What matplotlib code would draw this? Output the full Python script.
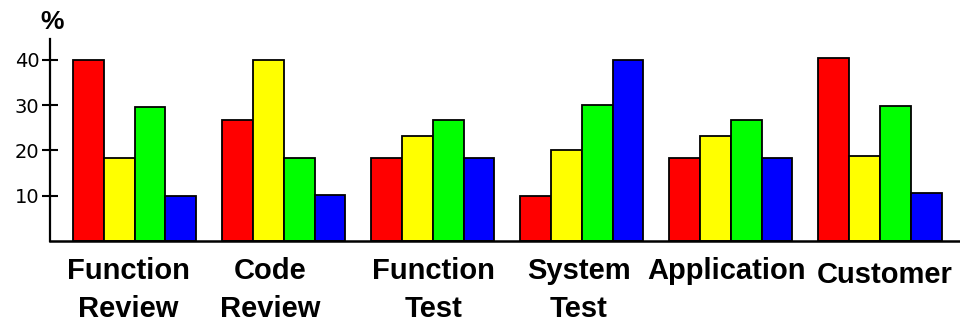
import numpy as np
import matplotlib.pyplot as plt
from matplotlib.transforms import offset_copy

# Data (percent)
categories = ['Function\nReview', 'Code\nReview', 'Function\nTest',
              'System\nTest', 'Application', 'Customer']
red_vals = [40.0, 26.7, 18.4, 10.0, 18.4, 40.5]
yellow_vals = [18.3, 40.0, 23.2, 20.1, 23.2, 18.8]
green_vals = [29.5, 18.4, 26.7, 30.1, 26.7, 29.9]
blue_vals = [10.0, 10.1, 18.4, 40.0, 18.4, 10.5]
yticks = [10, 20, 30, 40]

series = [red_vals, yellow_vals, green_vals, blue_vals]
colors = ['#FF0000', '#FFFF00', '#00FF00', '#0000FF']

fig = plt.figure(figsize=(9.6, 3.24), dpi=100)
ax = fig.add_axes([50 / 960, (324 - 241) / 324, 1 - 50 / 960, (241 - 39) / 324])

# group spacing in bar widths
gap = 4.84
centers = np.arange(len(categories)) * gap
offsets = [-1.5, -0.5, 0.5, 1.5]

for vals, col, off in zip(series, colors, offsets):
    ax.bar(centers + off, vals, width=1.0, color=col,
           edgecolor='black', linewidth=1.3)

ax.set_xlim(-2.75, 26.8)
ax.set_ylim(0, 44.6)

# Spines
for side in ['top', 'right']:
    ax.spines[side].set_visible(False)
ax.spines['left'].set_linewidth(1.6)
ax.spines['bottom'].set_linewidth(1.8)

ax.set_yticks(yticks)
ax.set_yticklabels([str(t) for t in yticks], fontsize=14,
                   family='DejaVu Sans')
ax.tick_params(axis='y', direction='inout', length=11, width=1.5, pad=2)

ax.set_xticks([])

# Category labels below the axis (small nudges in pixels, as in the reference)
label_dx = [-6, -14, 1, -3, -4, 5]
label_dy = [-16, -16, -16, -16, -16, -20]
base = ax.get_xaxis_transform()
for c, name, dx, dy in zip(centers, categories, label_dx, label_dy):
    tr = offset_copy(base, fig=fig, x=dx, y=dy, units='dots')
    ax.text(c, 0, name, transform=tr,
            ha='center', va='top', fontsize=21, fontweight='bold',
            family='Liberation Sans', linespacing=1.45)

# Unit label
fig.text(40 / 960, 1 - 10 / 324, '%', ha='left', va='top',
         fontsize=19, fontweight='bold', family='Liberation Sans')

fig.savefig('out.png', dpi=100)
